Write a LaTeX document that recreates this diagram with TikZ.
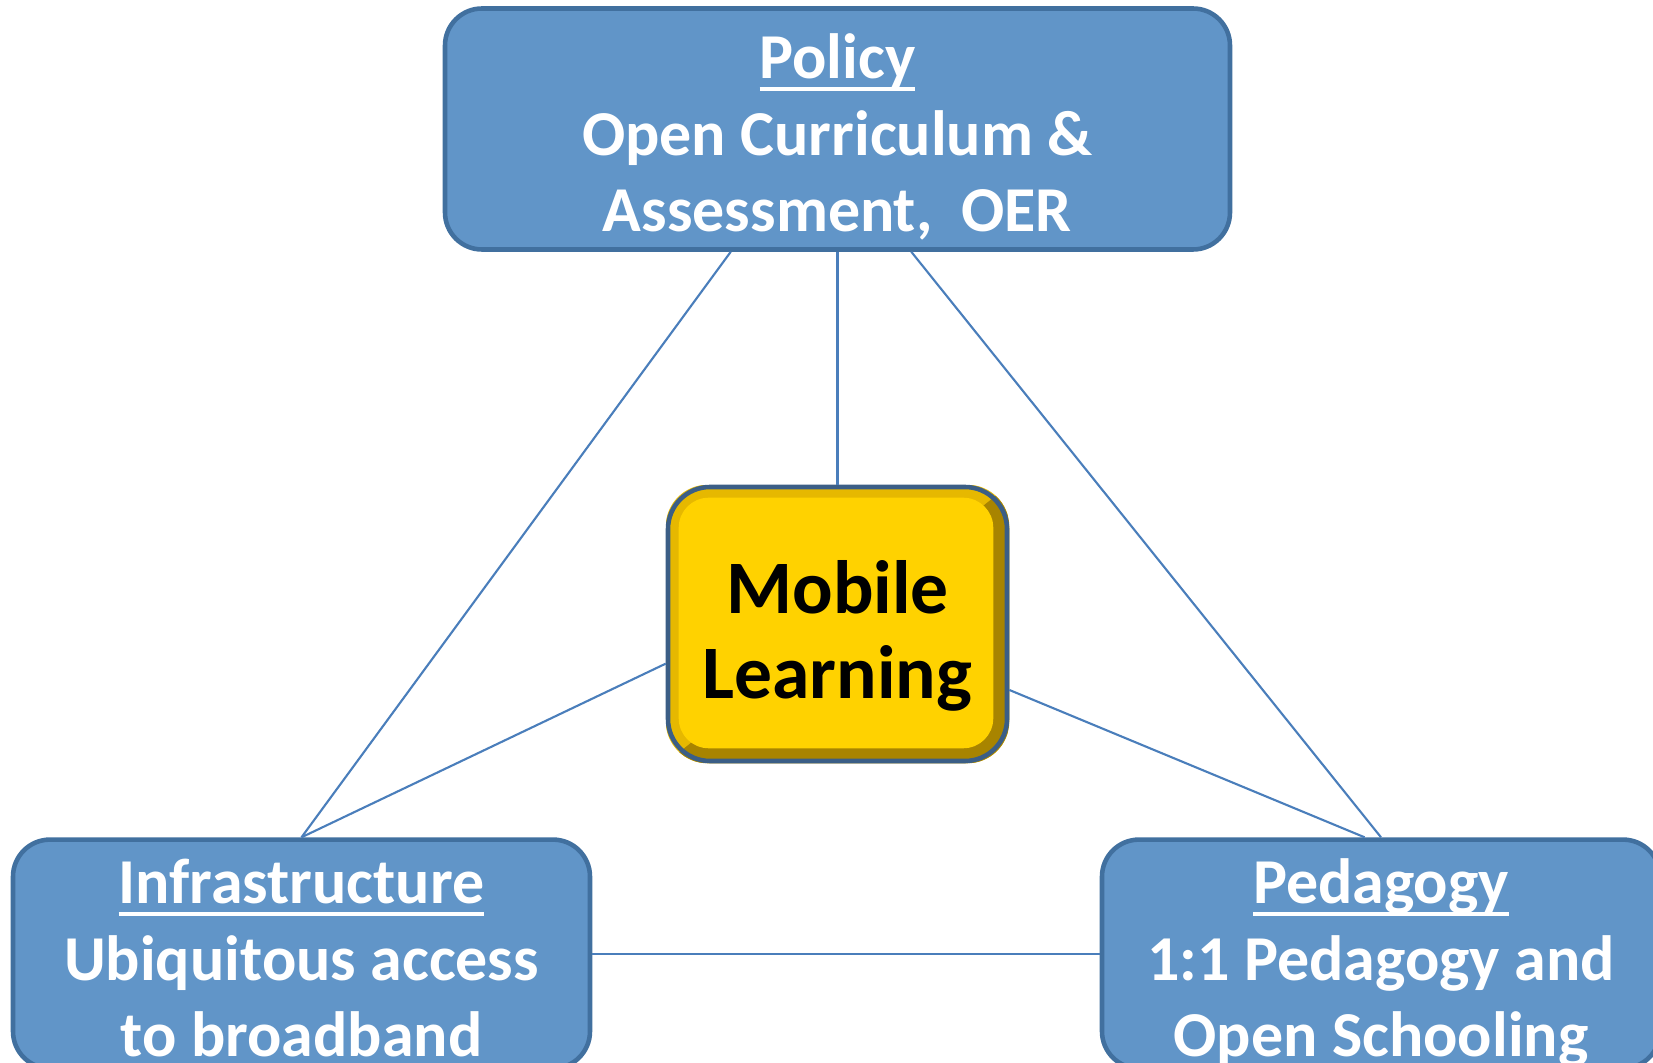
\documentclass[tikz,border=0pt]{standalone}
\usepackage{fontspec}
\setmainfont{Carlito}
\usetikzlibrary{calc}
\usepackage{xcolor}
\definecolor{cbox}{HTML}{6195C8}
\definecolor{cedge}{HTML}{41709F}
\definecolor{cline}{HTML}{4A7EBB}
\definecolor{cgold}{HTML}{FFD200}
\definecolor{cgoldmid}{HTML}{E6B800}
\definecolor{cgolddark}{HTML}{A88400}
\definecolor{cnavy}{HTML}{3B5E86}

\pgfdeclarelayer{background}
\pgfsetlayers{background,main}

% underlined heading, rule runs through the descenders
\newcommand{\headword}[1]{\setbox0\hbox{#1}\rlap{\rule[-0.19em]{\wd0}{0.06em}}\box0}

\tikzset{
  pillar/.style={draw=cedge, line width=1.3pt, fill=cbox, rounded corners=0.37cm,
                 text=white, font=\fontsize{18.2}{21.7}\selectfont\bfseries,
                 inner sep=0pt},
  link/.style={draw=cline, line width=0.6pt},
}

\begin{document}
\begin{tikzpicture}
  \useasboundingbox (0,0) rectangle (16.53,-10.63);

  % the three pillars (text lowered a little, box size kept)
  \node[pillar, minimum width=7.85cm, minimum height=2.41cm] (policy) at (8.375,-1.29) {
    \raisebox{-0.11cm}[\height][\depth]{\begin{tabular}{@{}c@{}}
      \headword{Policy}\\
      Open Curriculum \&\\
      Assessment,\ \ OER
    \end{tabular}}
  };
  \node[pillar, minimum width=5.77cm, minimum height=2.28cm] (infra) at (3.015,-9.54) {
    \raisebox{-0.11cm}[\height][\depth]{\begin{tabular}{@{}c@{}}
      \headword{Infrastructure}\\
      Ubiquitous access\\
      to broadband
    \end{tabular}}
  };
  \node[pillar, minimum width=5.58cm, minimum height=2.28cm] (pedagogy) at (13.81,-9.54) {
    \raisebox{-0.11cm}[\height][\depth]{\begin{tabular}{@{}c@{}}
      \headword{Pedagogy}\\
      1:1 Pedagogy and\\
      Open Schooling
    \end{tabular}}
  };

  % bevelled centre button
  \node[draw=cnavy, line width=1.3pt, rounded corners=0.42cm,
        minimum width=3.39cm, minimum height=2.74cm, inner sep=0pt,
        font=\fontsize{21.5}{24}\selectfont\bfseries] (hub) at (8.375,-6.24) {
    \raisebox{-0.15cm}[\height][\depth]{\begin{tabular}{@{}c@{}}
      Mobile\\
      Learning
    \end{tabular}}
  };
  \begin{pgfonlayer}{background}
    \begin{scope}
      \clip[rounded corners=0.42cm] (hub.south west) rectangle (hub.north east);
      \fill[cgoldmid] (hub.south west) rectangle (hub.north east);
      \fill[cgolddark] (hub.north east) -- (hub.south east) -- (hub.south west) -- cycle;
    \end{scope}
    \fill[cgold, rounded corners=0.3cm]
      ($(hub.south west)+(0.13,0.15)$) rectangle ($(hub.north east)-(0.16,0.13)$);
  \end{pgfonlayer}

  % connectors
  \draw[link] (policy.229.3) -- (infra.north);
  \draw[link] (policy.south) -- (hub.north);
  \draw[link] (policy.301.8) -- (pedagogy.north);
  \draw[link] (hub.193.2) -- (infra.north);
  \draw[link] (hub.339.6) -- (pedagogy.98);
  \draw[link] (infra.east) -- (pedagogy.west);
\end{tikzpicture}
\end{document}
